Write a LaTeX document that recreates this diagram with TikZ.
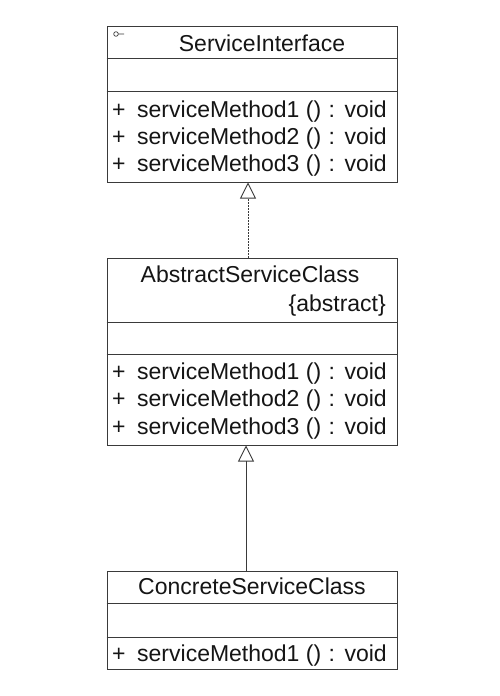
\documentclass[tikz,border=0pt]{standalone}
\usepackage{fontspec}
\setmainfont{Liberation Sans}
\usetikzlibrary{arrows.meta}
\definecolor{linec}{HTML}{3A3A3A}
\definecolor{textc}{HTML}{151515}
\tikzset{
  classbox/.style={draw=linec, line width=1pt, minimum width=290pt, inner sep=0pt, fill=white},
  txt/.style={inner sep=0pt, text=textc, font=\fontsize{23}{27}\selectfont},
  sep/.style={draw=linec, line width=1pt},
  realize/.style={draw=linec, line width=0.9pt, dash pattern=on 1.5pt off 1.5pt, -{Triangle[open, length=16pt, width=16pt, line width=0.9pt]}},
  inherit/.style={draw=linec, line width=0.9pt, -{Triangle[open, length=16pt, width=16pt, line width=0.9pt]}}
}
\begin{document}
\begin{tikzpicture}[x=1pt,y=-1pt]
\useasboundingbox (0,0) rectangle (499,696);
% boxes
\node[classbox, minimum height=156pt] (iface) at (252,104) {};
\node[classbox, minimum height=187pt] (abs) at (252,351.5) {};
\node[classbox, minimum height=98pt] (conc) at (252,620) {};
% compartments
\draw[sep] (iface.west |- 0,58) -- (iface.east |- 0,58);
\draw[sep] (iface.west |- 0,91.5) -- (iface.east |- 0,91.5);
\draw[sep] (abs.west |- 0,322) -- (abs.east |- 0,322);
\draw[sep] (abs.west |- 0,354) -- (abs.east |- 0,354);
\draw[sep] (conc.west |- 0,603.5) -- (conc.east |- 0,603.5);
\draw[sep] (conc.west |- 0,637) -- (conc.east |- 0,637);
% interface icon
\draw[linec, line width=0.7pt] (116,34) circle (2.3pt) (118.3,34) -- (124,34);
% texts
\node[txt, anchor=base] (ifn) at (262,51) {ServiceInterface};
\node[txt, anchor=base west] (ip1) at (112,117) {+};
\node[txt, anchor=base west] (im1) at (137,117) {serviceMethod1 () \hspace{1pt}:\hspace{1pt} void};
\node[txt, anchor=base west] (ip2) at (112,144) {+};
\node[txt, anchor=base west] (im2) at (137,144) {serviceMethod2 () \hspace{1pt}:\hspace{1pt} void};
\node[txt, anchor=base west] (ip3) at (112,171) {+};
\node[txt, anchor=base west] (im3) at (137,171) {serviceMethod3 () \hspace{1pt}:\hspace{1pt} void};
\node[txt, anchor=base] (abn) at (250,282) {AbstractServiceClass};
\node[txt, anchor=base east] (abk) at (386,311) {\{abstract\}};
\node[txt, anchor=base west] (ap1) at (112,379) {+};
\node[txt, anchor=base west] (am1) at (137,379) {serviceMethod1 () \hspace{1pt}:\hspace{1pt} void};
\node[txt, anchor=base west] (ap2) at (112,406.5) {+};
\node[txt, anchor=base west] (am2) at (137,406.5) {serviceMethod2 () \hspace{1pt}:\hspace{1pt} void};
\node[txt, anchor=base west] (ap3) at (112,434) {+};
\node[txt, anchor=base west] (am3) at (137,434) {serviceMethod3 () \hspace{1pt}:\hspace{1pt} void};
\node[txt, anchor=base] (cn) at (252,594) {ConcreteServiceClass};
\node[txt, anchor=base west] (cp1) at (112,661) {+};
\node[txt, anchor=base west] (cm1) at (137,661) {serviceMethod1 () \hspace{1pt}:\hspace{1pt} void};
% connectors
\draw[realize] ([xshift=-4pt]abs.north) -- ([xshift=-4pt]iface.south);
\draw[inherit] ([xshift=-6pt]conc.north) -- ([xshift=-6pt]abs.south);
\end{tikzpicture}
\end{document}
